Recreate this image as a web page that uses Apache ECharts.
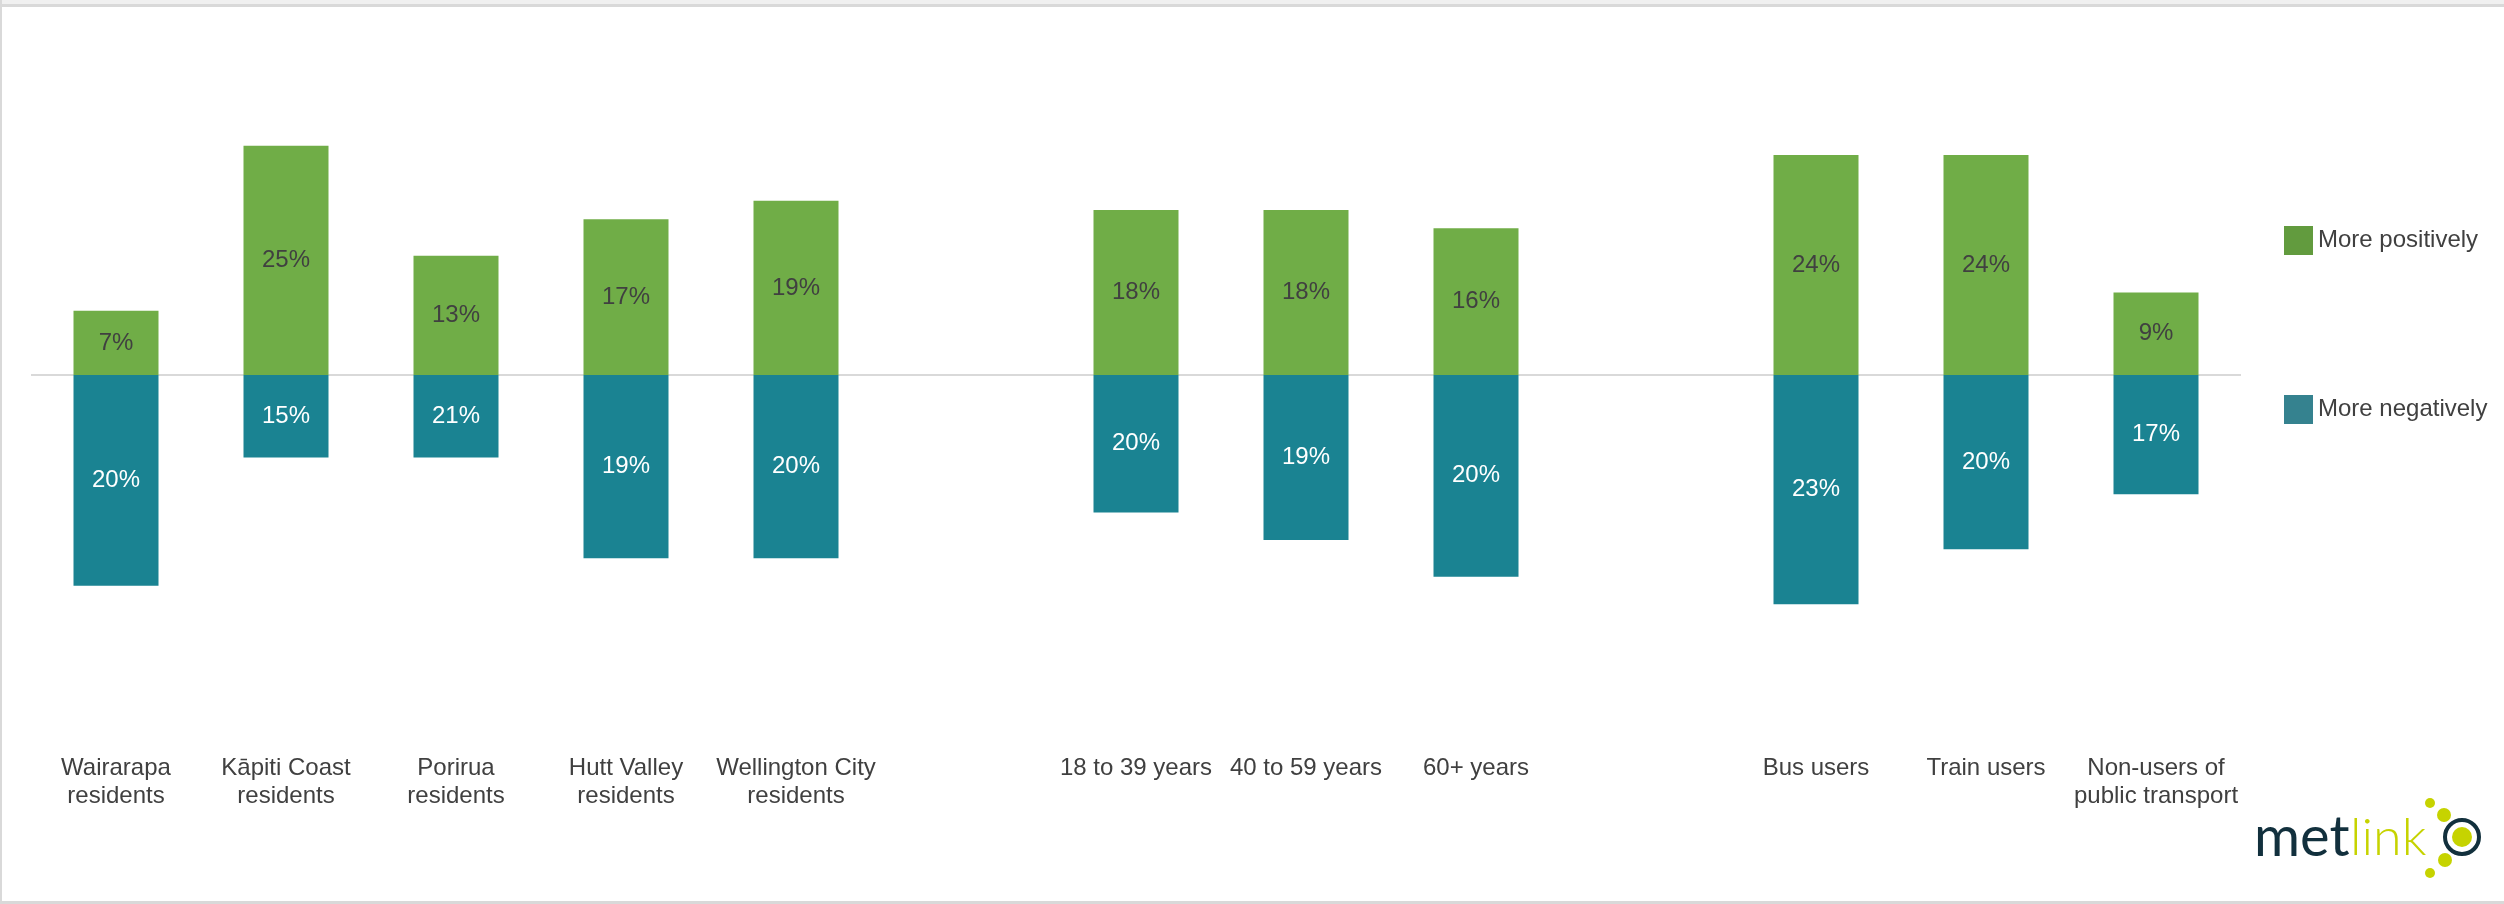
<!DOCTYPE html>
<html>
<head>
<meta charset="utf-8">
<script src="https://cdn.jsdelivr.net/npm/echarts@6/dist/echarts.min.js"></script>
<style>
  html, body { margin: 0; padding: 0; background: #ffffff; }
  #chart { width: 2504px; height: 904px; }
</style>
</head>
<body>
<div id="chart"></div>
<script>
// ---- data ----
const categories = [
  'Wairarapa\nresidents', 'Kāpiti Coast\nresidents', 'Porirua\nresidents', 'Hutt Valley\nresidents', 'Wellington City\nresidents',
  '',
  '18 to 39 years', '40 to 59 years', '60+ years',
  '',
  'Bus users', 'Train users', 'Non-users of\npublic transport'
];
const seriesNames = ['More positively', 'More negatively'];
// bar lengths as drawn
const positiveValues = [7, 25, 13, 17, 19, null, 18, 18, 16, null, 24, 24, 9];
const negativeValues = [-23, -9, -9, -20, -20, null, -15, -18, -22, null, -25, -19, -13];
// data-label texts as printed on the bars
const positiveLabels = ['7%', '25%', '13%', '17%', '19%', '', '18%', '18%', '16%', '', '24%', '24%', '9%'];
const negativeLabels = ['20%', '15%', '21%', '19%', '20%', '', '20%', '19%', '20%', '', '23%', '20%', '17%'];

const FONT = '"Liberation Sans", Arial, sans-serif';
const chart = echarts.init(document.getElementById('chart'), null, { renderer: 'canvas' });

const option = {
  backgroundColor: '#ffffff',
  animation: false,
  textStyle: { fontFamily: FONT },
  grid: { left: 31, top: 100, width: 2210, height: 550, containLabel: false },
  legend: {
    orient: 'vertical',
    left: 2279,
    top: 221,
    itemWidth: 29,
    itemHeight: 29,
    itemGap: 140,
    icon: 'rect',
    textStyle: { fontFamily: FONT, fontSize: 24, color: '#404040' },
    data: [
      { name: seriesNames[0], itemStyle: { color: '#629B3E' } },
      { name: seriesNames[1], itemStyle: { color: '#35828F' } }
    ]
  },
  xAxis: {
    type: 'category',
    data: categories,
    axisLine: { show: false },
    axisTick: { show: false },
    axisLabel: {
      interval: 0,
      margin: 104,
      fontFamily: FONT,
      fontSize: 24,
      lineHeight: 28,
      color: '#404040',
      verticalAlign: 'top'
    },
    splitLine: { show: false }
  },
  yAxis: {
    type: 'value',
    min: -30,
    max: 30,
    show: false,
    splitLine: { show: false }
  },
  series: [
    {
      name: seriesNames[0],
      type: 'bar',
      stack: 'total',
      barWidth: 85,
      data: positiveValues,
      itemStyle: { color: '#70AD47' },
      label: {
        show: true,
        position: 'inside',
        fontFamily: FONT,
        fontSize: 24,
        color: '#404040',
        formatter: p => positiveLabels[p.dataIndex]
      },
      markLine: {
        silent: true,
        symbol: ['none', 'none'],
        label: { show: false },
        lineStyle: { color: '#D9D9D9', width: 2, type: 'solid' },
        data: [{ yAxis: 0 }],
        z: 1
      },
      z: 3
    },
    {
      name: seriesNames[1],
      type: 'bar',
      stack: 'total',
      barWidth: 85,
      data: negativeValues,
      itemStyle: { color: '#1A8392' },
      label: {
        show: true,
        position: 'inside',
        fontFamily: FONT,
        fontSize: 24,
        color: '#ffffff',
        formatter: p => negativeLabels[p.dataIndex]
      },
      z: 3
    }
  ],
  graphic: [
    // frame
    { type: 'rect', shape: { x: 0, y: 0, width: 2504, height: 5 }, style: { fill: '#F0F0F0' }, silent: true },
    { type: 'rect', shape: { x: 0, y: 4, width: 2504, height: 3 }, style: { fill: '#D9D9D9' }, silent: true },
    { type: 'rect', shape: { x: 0, y: 0, width: 2, height: 904 }, style: { fill: '#D9D9D9' }, silent: true },
    { type: 'rect', shape: { x: 0, y: 901, width: 2504, height: 3 }, style: { fill: '#D9D9D9' }, silent: true },
    // logo
    { type: 'text', style: { x: 2254, y: 838, text: 'met', font: '400 56px Lato, "Open Sans", sans-serif', fill: '#12303D', verticalAlign: 'middle', align: 'left' }, silent: true },
    { type: 'text', style: { x: 2350, y: 838, text: 'link', font: '300 52px Lato, "Open Sans", sans-serif', fill: '#C6D300', verticalAlign: 'middle', align: 'left' }, silent: true },
    { type: 'circle', shape: { cx: 2430, cy: 803, r: 5 }, style: { fill: '#C6D300' }, silent: true },
    { type: 'circle', shape: { cx: 2444, cy: 815, r: 7 }, style: { fill: '#C6D300' }, silent: true },
    { type: 'circle', shape: { cx: 2462, cy: 837, r: 17 }, style: { fill: '#ffffff', stroke: '#12303D', lineWidth: 4 }, silent: true },
    { type: 'circle', shape: { cx: 2462, cy: 837, r: 10 }, style: { fill: '#C6D300' }, silent: true },
    { type: 'circle', shape: { cx: 2445, cy: 860, r: 7 }, style: { fill: '#C6D300' }, silent: true },
    { type: 'circle', shape: { cx: 2430, cy: 873, r: 5 }, style: { fill: '#C6D300' }, silent: true }
  ]
};
chart.setOption(option);
</script>
</body>
</html>
